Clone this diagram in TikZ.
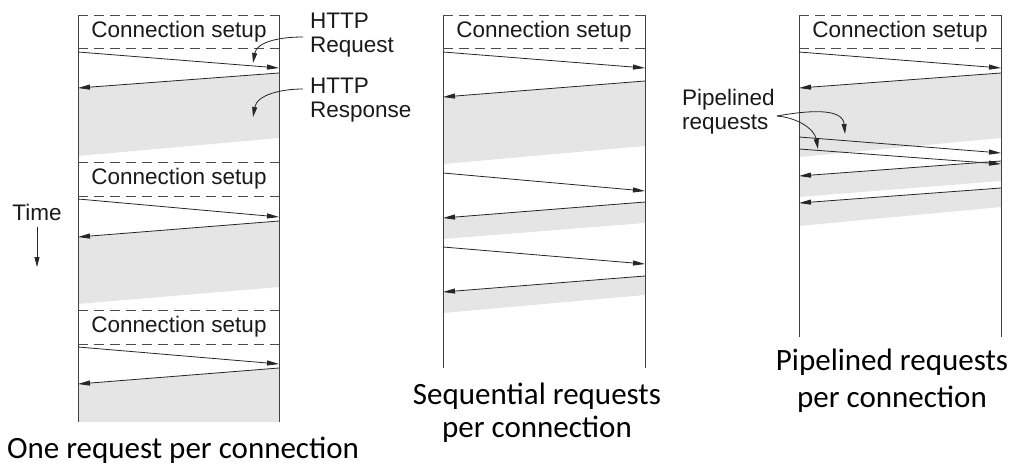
\documentclass[tikz,border=0pt]{standalone}
\usepackage{fontspec}
\setmainfont{Carlito}
\newfontfamily\helv{Liberation Sans}
\usetikzlibrary{arrows.meta}
\tikzstyle{lane} = [draw=black!75, line width=0.9pt]
\tikzstyle{setup} = [draw=black!70, line width=0.8pt, dash pattern=on 10pt off 6pt]
\tikzstyle{msg} = [draw=black!85, line width=0.8pt, -{Triangle[length=12pt,width=5pt]}]
\tikzstyle{pointer} = [draw=black!85, line width=0.8pt, -{Triangle[length=10pt,width=5pt]}]
\tikzstyle{band} = [fill=gray!20, draw=none]
\tikzstyle{note} = [font=\helv\fontsize{22.5}{24}\selectfont, inner sep=0pt, text=black!90]
\tikzstyle{caption} = [font=\fontsize{31}{33}\selectfont, align=center, inner sep=0pt]
\begin{document}
\begin{tikzpicture}[x=1pt, y=-1pt]
\useasboundingbox (0,0) rectangle (1012,465);
% one request per connection
\coordinate (l0) at (78,15);   \coordinate (r0) at (279,15);
\coordinate (l1) at (78,48);   \coordinate (r1) at (279,48);
\coordinate (l2) at (78,52);   \coordinate (r2) at (279,68);
\coordinate (r3) at (279,73);  \coordinate (l3) at (78,88);
\coordinate (l4) at (78,162);  \coordinate (r4) at (279,162);
\coordinate (l5) at (78,196);  \coordinate (r5) at (279,196);
\coordinate (l6) at (78,199);  \coordinate (r6) at (279,217);
\coordinate (r7) at (279,221); \coordinate (l7) at (78,237);
\coordinate (l8) at (78,310);  \coordinate (r8) at (279,310);
\coordinate (l9) at (78,344);  \coordinate (r9) at (279,344);
\coordinate (l10) at (78,347); \coordinate (r10) at (279,364);
\coordinate (r11) at (279,368);\coordinate (l11) at (78,384);
\coordinate (lend) at (78,422); \coordinate (rend) at (279,422);
\fill [band] (r3) -- (l3) -- (78,156) -- (279,138) -- cycle;
\fill [band] (r7) -- (l7) -- (78,304) -- (279,287) -- cycle;
\fill [band] (r11) -- (l11) -- (lend) -- (rend) -- cycle;
\draw [lane] (l0) -- (lend);
\draw [lane] (r0) -- (rend);
\draw [setup] (l0) -- (r0);
\draw [setup] (l1) -- (r1);
\draw [setup] (l4) -- (r4);
\draw [setup] (l5) -- (r5);
\draw [setup] (l8) -- (r8);
\draw [setup] (l9) -- (r9);
\node (setup1) [note] at (179,32) {Connection setup};
\node (setup2) [note] at (179,179) {Connection setup};
\node (setup3) [note] at (179,327) {Connection setup};
\draw [msg] (l2) -- (r2);
\draw [msg] (r3) -- (l3);
\draw [msg] (l6) -- (r6);
\draw [msg] (r7) -- (l7);
\draw [msg] (l10) -- (r10);
\draw [msg] (r11) -- (l11);
\node (httpreq) [note, anchor=west, align=left] at (310,35) {HTTP\\Request};
\node (httpresp) [note, anchor=west, align=left] at (310,100) {HTTP\\Response};
\coordinate (reqtip) at (253,63);
\coordinate (resptip) at (253,117);
\draw [pointer] ([xshift=-7pt,yshift=-2pt]httpreq.west) to[out=180, in=80] (reqtip);
\draw [pointer] ([xshift=-7pt,yshift=11pt]httpresp.west) to[out=180, in=80] (resptip);
\node (time) [note] at (37,212) {Time};
\coordinate (timeend) at (37,267);
\draw [pointer] ([yshift=-7pt]time.south) -- (timeend);
\node (cap1) [caption] at (183,450) {One request per connection};
% sequential requests per connection
\coordinate (sl0) at (443,15);   \coordinate (sr0) at (645,15);
\coordinate (sl1) at (443,48);   \coordinate (sr1) at (645,48);
\coordinate (sl2) at (443,52);   \coordinate (sr2) at (645,68);
\coordinate (sr3) at (645,81);   \coordinate (sl3) at (443,97);
\coordinate (sl4) at (443,173);  \coordinate (sr4) at (645,191);
\coordinate (sr5) at (645,202);  \coordinate (sl5) at (443,218);
\coordinate (sl6) at (443,247);  \coordinate (sr6) at (645,264);
\coordinate (sr7) at (645,276);  \coordinate (sl7) at (443,292);
\coordinate (slend) at (443,368); \coordinate (srend) at (645,368);
\fill [band] (sr3) -- (sl3) -- (443,164) -- (645,146) -- cycle;
\fill [band] (sr5) -- (sl5) -- (443,239) -- (645,223) -- cycle;
\fill [band] (sr7) -- (sl7) -- (443,313) -- (645,295) -- cycle;
\draw [lane] (sl0) -- (slend);
\draw [lane] (sr0) -- (srend);
\draw [setup] (sl0) -- (sr0);
\draw [setup] (sl1) -- (sr1);
\node (setup4) [note] at (544,32) {Connection setup};
\draw [msg] (sl2) -- (sr2);
\draw [msg] (sr3) -- (sl3);
\draw [msg] (sl4) -- (sr4);
\draw [msg] (sr5) -- (sl5);
\draw [msg] (sl6) -- (sr6);
\draw [msg] (sr7) -- (sl7);
\node (cap2) [caption] at (537,413) {Sequential requests\\per connection};
% pipelined requests per connection
\coordinate (pl0) at (799,15);   \coordinate (pr0) at (1001,15);
\coordinate (pl1) at (799,48);   \coordinate (pr1) at (1001,48);
\coordinate (pl2) at (799,52);   \coordinate (pr2) at (1001,68);
\coordinate (pr3) at (1001,73);  \coordinate (pl3) at (799,88);
\coordinate (pl4) at (799,137);  \coordinate (pr4) at (1001,153);
\coordinate (pl5) at (799,149);  \coordinate (pr5) at (1001,164);
\coordinate (pr6) at (1001,161); \coordinate (pl6) at (799,176);
\coordinate (pr7) at (1001,188); \coordinate (pl7) at (799,203);
\coordinate (plend) at (799,337); \coordinate (prend) at (1001,337);
\fill [band] (pr3) -- (pl3) -- (799,157) -- (1001,138) -- cycle;
\fill [band] (pr6) -- (pl6) -- (799,197) -- (1001,181) -- cycle;
\fill [band] (pr7) -- (pl7) -- (799,226) -- (1001,207) -- cycle;
\draw [lane] (pl0) -- (plend);
\draw [lane] (pr0) -- (prend);
\draw [setup] (pl0) -- (pr0);
\draw [setup] (pl1) -- (pr1);
\node (setup5) [note] at (900,32) {Connection setup};
\draw [msg] (pl2) -- (pr2);
\draw [msg] (pr3) -- (pl3);
\draw [msg] (pl4) -- (pr4);
\draw [msg] (pl5) -- (pr5);
\draw [msg] (pr6) -- (pl6);
\draw [msg] (pr7) -- (pl7);
\node (piped) [note, anchor=west, align=left] at (682,112) {Pipelined\\requests};
\coordinate (pipetip1) at (845,134);
\coordinate (pipetip2) at (818,149);
\draw [pointer] ([xshift=2pt,yshift=-4pt]piped.east) to[out=10, in=95] (pipetip1);
\draw [pointer] ([xshift=2pt,yshift=-4pt]piped.east) to[out=-5, in=100] (pipetip2);
\node (cap3) [caption, font=\fontsize{31}{37}\selectfont] at (892,381) {Pipelined requests\\per connection};
\end{tikzpicture}
\end{document}
